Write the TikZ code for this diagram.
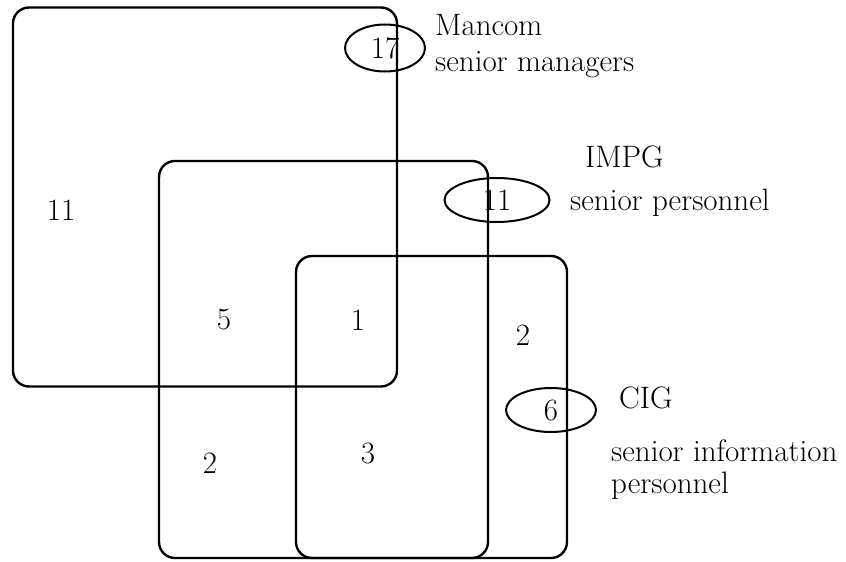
\documentclass[tikz,border=0pt]{standalone}
\usepackage{tikz}
\usetikzlibrary{shapes.geometric}

\begin{document}
\begin{tikzpicture}[
  x=1pt, y=-1pt,
  font=\fontsize{31}{35}\selectfont,
  setbox/.style={draw, line width=2.4pt, rounded corners=16pt, inner sep=0pt},
  cntoval/.style={draw, ellipse, line width=2pt, inner sep=0pt},
  cnt/.style={inner sep=0pt},
  lbl/.style={inner sep=0pt, anchor=base west}
]
\useasboundingbox (0,0) rectangle (846,562);

% the three groups
\node[setbox, minimum width=384pt, minimum height=379pt] (mancom) at (205,197) {};
\node[setbox, minimum width=329pt, minimum height=397pt] (impg) at (323.5,359.5) {};
\node[setbox, minimum width=271pt, minimum height=302pt] (cig) at (431.5,407) {};

% group totals
\node[cntoval, minimum width=80pt, minimum height=47pt] (nmancom) at (385,48) {17};
\node[cntoval, minimum width=105pt, minimum height=44pt] (nimpg) at (497,200) {11};
\node[cntoval, minimum width=90pt, minimum height=44pt] (ncig) at (551,410) {6};

% counts per region
\node[cnt] (mOnly) at (61,210) {11};
\node[cnt] (mi) at (224,320) {5};
\node[cnt] (mic) at (358,320) {1};
\node[cnt] (cOnly) at (523,335) {2};
\node[cnt] (iOnly) at (210,463) {2};
\node[cnt] (ic) at (368,453) {3};

% group names
\node[lbl] (lmancom) at (435,35) {Mancom};
\node[lbl] (dmancom) at (435,71) {senior managers};
\node[lbl] (limpg) at (585,167) {IMPG};
\node[lbl] (dimpg) at (570,210) {senior personnel};
\node[lbl] (lcig) at (619,408) {CIG};
\node[lbl] (dcig) at (611,461) {senior information};
\node[lbl] (dcigb) at (611,493) {personnel};
\end{tikzpicture}
\end{document}
